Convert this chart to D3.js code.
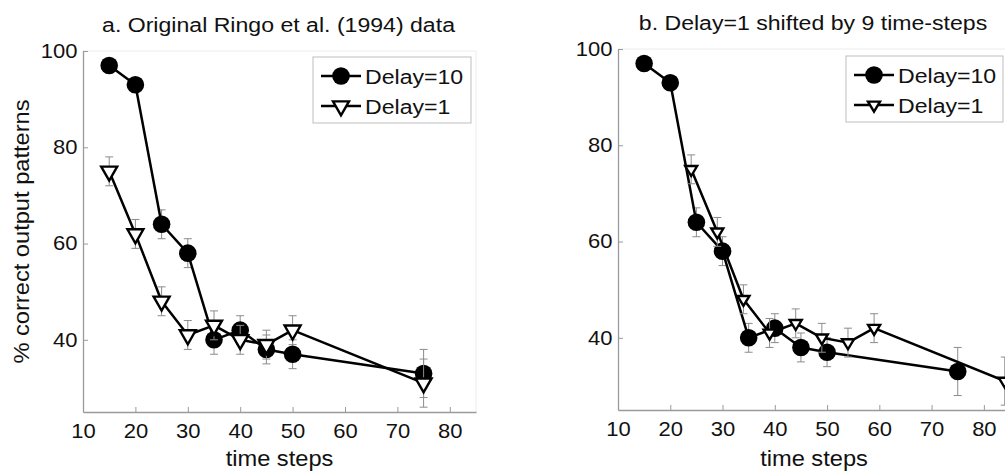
<!DOCTYPE html>
<html>
<head>
<meta charset="utf-8">
<script src="https://cdn.jsdelivr.net/npm/d3@7"></script>
<style>
	body { margin: 0; background: #fff; }
	svg { display: block; font-family: "Liberation Sans", Arial, Helvetica, sans-serif; }
</style>
</head>
<body>
<svg id="chart" width="1005" height="471"></svg>
<script>

// values (Ringo et al. 1994)
var steps = [15, 20, 25, 30, 35, 40, 45, 50, 75];
var delay10 = [97, 93, 64, 58, 40, 42, 38, 37, 33];
var delay10Err = [1, 1, 3, 3, 3, 3, 3, 3, 5];
var delay1 = [75, 62, 48, 41, 43, 40, 39, 42, 31];
var delay1Err = [3, 3, 3, 3, 3, 3, 3, 3, 5];
var shiftBy = 9;

var xTicks = [10, 20, 30, 40, 50, 60, 70, 80];
var yTicks = [40, 60, 80, 100];
var seriesNames = ["Delay=10", "Delay=1"];
var panelTitles = ["a. Original Ringo et al. (1994) data", "b. Delay=1 shifted by 9 time-steps"];
var xLabel = "time steps";
var yLabel = "% correct output patterns";

var svg = d3.select("#chart");
var stretch = 1.1; // the original text is a bit wider than Arial

var panels = [
	{ left: 83, right: 476, top: 51, bottom: 412, shift: 0, tri: [8, 14], legend: { x: 313, y: 57, w: 158, h: 66 }, yLabel: true },
	{ left: 618, right: 1010, top: 49, bottom: 410, shift: shiftBy, tri: [6, 10], legend: { x: 846, y: 56, w: 157, h: 66 }, yLabel: false }
];

function triPath(hw, h) {
	// downward triangle, centred on its centroid
	return "M" + (-hw) + "," + (-h / 3) + "L" + hw + "," + (-h / 3) + "L0," + (2 * h / 3) + "Z";
}

function label(sel, x, y, txt, size, anchor, rot) {
	return sel.append("text")
		.attr("transform", "translate(" + x + "," + y + ")" + (rot ? " rotate(" + rot + ")" : "") + " scale(" + stretch + ",1)")
		.attr("text-anchor", anchor || "middle")
		.style("font-size", size + "px")
		.attr("fill", "#111")
		.text(txt);
}

function drawPanel(p, idx) {
	var g = svg.append("g");

	var x = d3.scaleLinear().domain([10, 85]).range([p.left, p.right]);
	var y = d3.scaleLinear().domain([25, 100]).range([p.bottom, p.top]);

	// faint top / right box edges
	g.append("path")
		.attr("d", "M" + p.left + "," + p.top + "H" + p.right + "V" + p.bottom)
		.attr("fill", "none")
		.attr("stroke", "#ececec")
		.attr("stroke-width", 1);

	var xAxis = g.append("g")
		.attr("transform", "translate(0," + p.bottom + ")")
		.call(d3.axisBottom(x).tickValues(xTicks).tickSizeInner(-5).tickSizeOuter(0).tickPadding(12));

	var yAxis = g.append("g")
		.attr("transform", "translate(" + p.left + ",0)")
		.call(d3.axisLeft(y).tickValues(yTicks).tickSizeInner(-5).tickSizeOuter(0).tickPadding(5));

	[xAxis, yAxis].forEach(function(a) {
		a.select(".domain").attr("stroke", "#9a9a9a").attr("stroke-width", 1.3);
		a.selectAll(".tick line").attr("stroke", "#9a9a9a");
		a.selectAll(".tick text").attr("fill", "#111").style("font-size", "20px")
			.attr("transform", "scale(" + stretch + ",1)");
	});

	// title and axis labels
	label(g, (p.left + p.right) / 2 - 1, idx == 0 ? 32 : 30, panelTitles[idx], 21);
	label(g, x(47.5), 466, xLabel, 21.5);
	if (p.yLabel) {
		label(g, 29, (p.top + p.bottom) / 2, yLabel, 21.5, "middle", -90);
	}

	var series = [
		{ xs: steps, ys: delay10, err: delay10Err, mark: "circle" },
		{ xs: steps.map(function(s) { return s + p.shift; }), ys: delay1, err: delay1Err, mark: "tri" }
	];

	var clip = "clip" + idx;
	svg.append("clipPath").attr("id", clip)
		.append("rect").attr("x", p.left - 20).attr("y", p.top - 20)
		.attr("width", p.right - p.left + 40).attr("height", p.bottom - p.top + 40);

	var plot = g.append("g").attr("clip-path", "url(#" + clip + ")");

	series.forEach(function(s) {
		var pts = s.xs.map(function(v, i) { return { x: v, y: s.ys[i], e: s.err[i] }; });

		// error bars
		var eb = plot.append("g").attr("stroke", "#8c8c8c").attr("stroke-width", 1);
		pts.forEach(function(d) {
			var cx = x(d.x);
			eb.append("line").attr("x1", cx).attr("x2", cx).attr("y1", y(d.y + d.e)).attr("y2", y(d.y - d.e));
			eb.append("line").attr("x1", cx - 4).attr("x2", cx + 4).attr("y1", y(d.y + d.e)).attr("y2", y(d.y + d.e));
			eb.append("line").attr("x1", cx - 4).attr("x2", cx + 4).attr("y1", y(d.y - d.e)).attr("y2", y(d.y - d.e));
		});

		plot.append("path")
			.datum(pts)
			.attr("fill", "none")
			.attr("stroke", "#000")
			.attr("stroke-width", 2.5)
			.attr("stroke-linejoin", "round")
			.attr("d", d3.line().x(function(d) { return x(d.x); }).y(function(d) { return y(d.y); }));

		if (s.mark == "circle") {
			plot.selectAll(null).data(pts).enter().append("circle")
				.attr("cx", function(d) { return x(d.x); })
				.attr("cy", function(d) { return y(d.y); })
				.attr("r", 8.8)
				.attr("fill", "#000");
		} else {
			plot.selectAll(null).data(pts).enter().append("path")
				.attr("transform", function(d) { return "translate(" + x(d.x) + "," + y(d.y) + ")"; })
				.attr("d", triPath(p.tri[0], p.tri[1]))
				.attr("fill", "#fff")
				.attr("stroke", "#000")
				.attr("stroke-width", 2.4)
				.attr("stroke-linejoin", "miter");
		}
	});

	// legend
	var L = p.legend;
	var lg = g.append("g");
	lg.append("rect")
		.attr("x", L.x).attr("y", L.y).attr("width", L.w).attr("height", L.h)
		.attr("fill", "#fff").attr("stroke", "#bdbdbd").attr("stroke-width", 1);

	seriesNames.forEach(function(name, i) {
		var cy = L.y + 19 + i * 30;
		var x0 = L.x + 8, x1 = L.x + 48, mx = (x0 + x1) / 2;
		lg.append("line").attr("x1", x0).attr("x2", x1).attr("y1", cy).attr("y2", cy)
			.attr("stroke", "#000").attr("stroke-width", 2.5);
		if (i == 0) {
			lg.append("circle").attr("cx", mx).attr("cy", cy).attr("r", 8.8).attr("fill", "#000");
		} else {
			lg.append("path").attr("transform", "translate(" + mx + "," + cy + ")")
				.attr("d", triPath(p.tri[0], p.tri[1]))
				.attr("fill", "#fff").attr("stroke", "#000").attr("stroke-width", 2.4);
		}
		label(lg, x1 + 4, cy + 7.5, name, 21, "start");
	});
}

panels.forEach(drawPanel);

</script>
</body>
</html>
